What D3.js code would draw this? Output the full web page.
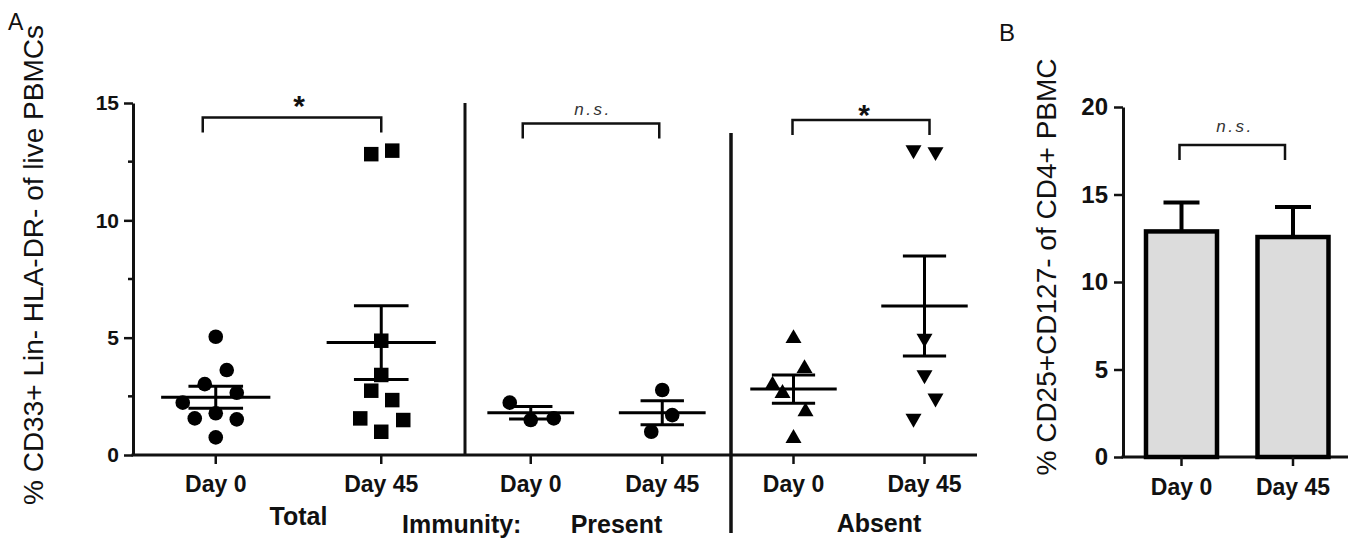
<!DOCTYPE html>
<html>
<head>
<meta charset="utf-8">
<script src="https://cdn.jsdelivr.net/npm/d3@7/dist/d3.min.js"></script>
<style>
  html, body { margin: 0; padding: 0; background: #fff; }
  svg { display: block; }
</style>
</head>
<body>
<svg id="chart" width="1355" height="542" font-family="Liberation Sans, Arial, Helvetica, sans-serif"></svg>
<script>
// ---------------- DATA ----------------
const daysA = ["Day 0", "Day 45"];
const groupsA = ["Total", "Present", "Absent"];
const totalDay0   = [5.04, 3.62, 3.02, 2.65, 2.23, 1.56, 1.78, 1.52, 0.75];
const totalDay45  = [12.82, 12.97, 4.87, 3.41, 2.74, 2.34, 1.56, 1.49, 0.99];
const presentDay0 = [2.23, 1.49, 1.56];
const presentDay45 = [2.77, 1.70, 0.99];
const absentDay0  = [4.97, 3.69, 2.98, 2.63, 1.85, 0.71];
const absentDay45 = [13.0, 12.92, 4.97, 3.41, 2.42, 1.56];
const meanA = [2.46, 4.79, 1.80, 1.80, 2.81, 6.35];
const semA  = [0.47, 1.57, 0.27, 0.51, 0.60, 2.13];
const yTicksA = [0, 5, 10, 15];
const yMinorA = [2.5, 7.5, 12.5];
const signifA = ["*", "n.s.", "*"];
const yLabelA = "% CD33+ Lin- HLA-DR- of live PBMCs";

const daysB = ["Day 0", "Day 45"];
const meanB = [12.89, 12.57];
const errB  = [1.66, 1.72];
const yTicksB = [0, 5, 10, 15, 20];
const signifB = "n.s.";
const yLabelB = "% CD25+CD127- of CD4+ PBMC";

// ---------------- LAYOUT (not data) ----------------
const svg = d3.select("#chart");
const FONT = "Liberation Sans, Arial, Helvetica, sans-serif";
const INK = "#111";
const seriesA = [totalDay0, totalDay45, presentDay0, presentDay45, absentDay0, absentDay45];
const shapesA = ["circle", "square", "circle", "circle", "triUp", "triDown"];
// horizontal scatter offsets (px) to avoid overlap, as in the reference
const jitterA = [
  [0, 11, -11, 21, -33, -21, 0, 21, 0],
  [-10, 11, 0, 0, -10, 11, -21, 22, 0],
  [-21, 0, 23],
  [0, 10, -11],
  [0, 11, -21, -11, 12, 0],
  [-11, 11, 0, 0, 11, -11]
];
const groupSpans = [[133, 464], [465, 728], [728, 990]];

function txt(g, x, y, s, size, opts = {}) {
  const t = g.append("text").attr("x", x).attr("y", y).text(s)
    .style("font-family", FONT).style("font-size", size + "px")
    .style("fill", opts.fill || INK)
    .style("font-weight", opts.weight || "400")
    .style("font-style", opts.italic ? "italic" : "normal")
    .attr("text-anchor", opts.anchor || "middle");
  if (opts.ls) t.style("letter-spacing", opts.ls + "px");
  if (opts.transform) t.attr("transform", opts.transform).attr("x", 0).attr("y", 0);
  return t;
}

const yA = d3.scaleLinear().domain([0, 15]).range([455, 103]);
const xGroups = groupSpans.map(s => d3.scalePoint().domain(daysA).range(s).padding(0.5));

// ---- Panel A y axis ----
const gA = svg.append("g");
const axA = gA.append("g").attr("transform", "translate(133,0)")
  .call(d3.axisLeft(yA).tickValues(yTicksA).tickSize(9).tickSizeOuter(0).tickPadding(5));
axA.select(".domain").attr("stroke", INK).attr("stroke-width", 3);
axA.selectAll(".tick line").attr("stroke", INK).attr("stroke-width", 2.5);
axA.selectAll(".tick text").style("font-size", "21px").style("font-weight", "700")
  .style("font-family", FONT).style("fill", INK);
gA.selectAll("line.minor").data(yMinorA).join("line")
  .attr("x1", 128).attr("x2", 133).attr("y1", d => yA(d)).attr("y2", d => yA(d))
  .attr("stroke", INK).attr("stroke-width", 2.5);

// y label
txt(gA, 0, 0, yLabelA, 28, { transform: "translate(43,265) rotate(-90)" });

// x axis line
gA.append("line").attr("x1", 131.5).attr("x2", 977).attr("y1", yA(0)).attr("y2", yA(0))
  .attr("stroke", INK).attr("stroke-width", 3);

// separators
gA.append("line").attr("x1", 465).attr("x2", 465).attr("y1", yA(15)).attr("y2", yA(0))
  .attr("stroke", INK).attr("stroke-width", 3);
gA.append("line").attr("x1", 731).attr("x2", 731).attr("y1", 133).attr("y2", 533)
  .attr("stroke", INK).attr("stroke-width", 3.5);

// x ticks + labels
groupsA.forEach((g, gi) => {
  const xs = xGroups[gi];
  daysA.forEach(d => {
    gA.append("line").attr("x1", xs(d)).attr("x2", xs(d)).attr("y1", yA(0)).attr("y2", yA(0) + 9)
      .attr("stroke", INK).attr("stroke-width", 2.5);
    txt(gA, xs(d), 492, d, 23, { weight: "700" });
  });
});

// group labels
const mid = gi => (xGroups[gi](daysA[0]) + xGroups[gi](daysA[1])) / 2;
txt(gA, mid(0), 525, groupsA[0], 25, { weight: "700" });
txt(gA, 402, 533, "Immunity:", 25, { weight: "700", anchor: "start" });
txt(gA, mid(1) + 20, 533, groupsA[1], 25, { weight: "700" });
txt(gA, mid(2) + 20, 532, groupsA[2], 25, { weight: "700" });

// points
const symSize = { circle: Math.PI * 7.3 * 7.3, square: 14.5 * 14.5, tri: Math.sqrt(3) / 4 * 16 * 16 };
seriesA.forEach((vals, si) => {
  const gi = Math.floor(si / 2), day = daysA[si % 2];
  const cx = xGroups[gi](day);
  const shape = shapesA[si];
  gA.append("g").selectAll("path").data(vals).join("path")
    .attr("transform", (v, i) => {
      const t = "translate(" + (cx + jitterA[si][i]) + "," + yA(v) + ")";
      return shape === "triDown" ? t + " rotate(180)" : t;
    })
    .attr("d", shape === "circle" ? d3.symbol(d3.symbolCircle, symSize.circle)()
      : shape === "square" ? d3.symbol(d3.symbolSquare, symSize.square)()
      : d3.symbol(d3.symbolTriangle, symSize.tri)())
    .attr("fill", "#000");
});

// mean + SEM
seriesA.forEach((vals, si) => {
  const gi = Math.floor(si / 2), day = daysA[si % 2];
  const xs = xGroups[gi];
  const cx = xs(day), step = xs.step();
  const mw = step * 0.33, cw = step * 0.165;
  const m = meanA[si], s = semA[si];
  const ln = (x1, y1, x2, y2) => gA.append("line").attr("x1", x1).attr("x2", x2).attr("y1", y1).attr("y2", y2)
    .attr("stroke", "#000").attr("stroke-width", 3);
  ln(cx - mw, yA(m), cx + mw, yA(m));
  ln(cx, yA(m + s), cx, yA(m - s));
  ln(cx - cw, yA(m + s), cx + cw, yA(m + s));
  ln(cx - cw, yA(m - s), cx + cw, yA(m - s));
});

// significance brackets
const brA = [
  { l: -13, r: 0, y: 117.5, ty: 116, tx: 299 },
  { l: -8, r: -3, y: 123.5, ty: 115, tx: 593 },
  { l: -1, r: 5, y: 120, ty: 125, tx: 864 }
];
brA.forEach((b, gi) => {
  const xs = xGroups[gi];
  const x1 = xs(daysA[0]) + b.l, x2 = xs(daysA[1]) + b.r;
  gA.append("path").attr("d", `M${x1},${b.y + 15}V${b.y}H${x2}V${b.y + 15}`)
    .attr("fill", "none").attr("stroke", INK).attr("stroke-width", 2.5);
  if (signifA[gi] === "*") txt(gA, b.tx, b.ty, signifA[gi], 30, { weight: "700" });
  else txt(gA, b.tx, b.ty, signifA[gi], 17, { italic: true, ls: 2.5, fill: "#333" });
});

txt(svg, 8, 30, "A", 23, { anchor: "start" });

// ---------------- Panel B ----------------
const gB = svg.append("g");
const yB = d3.scaleLinear().domain([0, 20]).range([457, 107]);
const xB = d3.scalePoint().domain(daysB).range([1125.75, 1348.75]).padding(0.5);

const axB = gB.append("g").attr("transform", "translate(1123,0)")
  .call(d3.axisLeft(yB).tickValues(yTicksB).tickSize(9).tickSizeOuter(0).tickPadding(6));
axB.select(".domain").attr("stroke", INK).attr("stroke-width", 3);
axB.selectAll(".tick line").attr("stroke", INK).attr("stroke-width", 2.5);
axB.selectAll(".tick text").style("font-size", "24px").style("font-weight", "700")
  .style("font-family", FONT).style("fill", INK);

txt(gB, 0, 0, yLabelB, 28, { transform: "translate(1056,267) rotate(-90)" });

gB.append("line").attr("x1", 1121.5).attr("x2", 1348).attr("y1", yB(0)).attr("y2", yB(0))
  .attr("stroke", INK).attr("stroke-width", 3);

daysB.forEach((d, i) => {
  const cx = xB(d);
  gB.append("line").attr("x1", cx).attr("x2", cx).attr("y1", yB(meanB[i])).attr("y2", yB(meanB[i] + errB[i]))
    .attr("stroke", "#000").attr("stroke-width", 4);
  gB.append("line").attr("x1", cx - 18).attr("x2", cx + 18).attr("y1", yB(meanB[i] + errB[i])).attr("y2", yB(meanB[i] + errB[i]))
    .attr("stroke", "#000").attr("stroke-width", 4);
  gB.append("rect").attr("x", cx - 35.5).attr("width", 71)
    .attr("y", yB(meanB[i])).attr("height", yB(0) - yB(meanB[i]))
    .attr("fill", "#dcdcdc").attr("stroke", "#000").attr("stroke-width", 4.5);
  gB.append("line").attr("x1", cx).attr("x2", cx).attr("y1", yB(0)).attr("y2", yB(0) + 9)
    .attr("stroke", INK).attr("stroke-width", 2.5);
  txt(gB, cx, 495, d, 23, { weight: "700" });
});

{
  const x1 = xB(daysB[0]) - 2, x2 = xB(daysB[1]) - 8, by = 145;
  gB.append("path").attr("d", `M${x1},${by + 15}V${by}H${x2}V${by + 15}`)
    .attr("fill", "none").attr("stroke", INK).attr("stroke-width", 2.5);
  txt(gB, 1235, 131.5, signifB, 17, { italic: true, ls: 2.5, fill: "#333" });
}

txt(svg, 999, 41, "B", 24, { anchor: "start" });
</script>
</body>
</html>
